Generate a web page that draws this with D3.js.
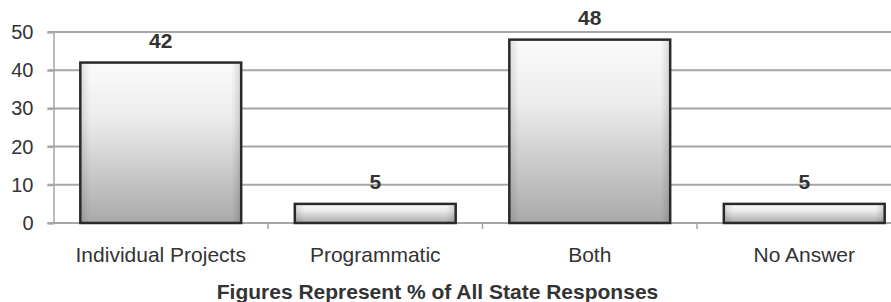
<!DOCTYPE html>
<html lang="en">
<head>
<meta charset="UTF-8" />
<title>State Responses bar chart</title>
<script src="https://cdn.jsdelivr.net/npm/d3@7"></script>
<style>
  body { margin: 0; background: #fff; }
  text { font-family: "Liberation Sans", Arial, sans-serif; fill: #333; }
</style>
</head>
<body>
<div id="chart"></div>
<script>
// data
const categories = ["Individual Projects", "Programmatic", "Both", "No Answer"];
const values = [42, 5, 48, 5];
const yTicks = [0, 10, 20, 30, 40, 50];
const title = "Figures Represent % of All State Responses";

const W = 891, H = 302;
// plot runs off the right edge, as in the original
const margin = { left: 53.5, right: 911.5, top: 32, bottom: 223 };

const svg = d3.select("#chart").append("svg")
    .attr("width", W).attr("height", H);

const defs = svg.append("defs");
const grad = defs.append("linearGradient")
    .attr("id", "barfill").attr("x1", 0).attr("y1", 0).attr("x2", 0).attr("y2", 1);
grad.append("stop").attr("offset", "0%").attr("stop-color", "#fbfbfb");
grad.append("stop").attr("offset", "35%").attr("stop-color", "#ececec");
grad.append("stop").attr("offset", "100%").attr("stop-color", "#a9a9a9");
const side = defs.append("linearGradient")
    .attr("id", "barside").attr("x1", 0).attr("y1", 0).attr("x2", 1).attr("y2", 0);
side.append("stop").attr("offset", "0%").attr("stop-color", "#000").attr("stop-opacity", 0.12);
side.append("stop").attr("offset", "6%").attr("stop-color", "#000").attr("stop-opacity", 0);
side.append("stop").attr("offset", "94%").attr("stop-color", "#000").attr("stop-opacity", 0);
side.append("stop").attr("offset", "100%").attr("stop-color", "#000").attr("stop-opacity", 0.15);

const x = d3.scaleBand()
    .domain(categories)
    .range([margin.left, margin.right])
    .paddingInner(0.25)
    .paddingOuter(0.125);

const y = d3.scaleLinear()
    .domain([0, 50])
    .range([margin.bottom, margin.top]);

// gridlines
svg.append("g")
    .selectAll("line")
    .data(yTicks.filter(d => d > 0))
    .join("line")
    .attr("x1", margin.left - 6).attr("x2", W)
    .attr("y1", d => y(d)).attr("y2", d => y(d))
    .attr("stroke", "#a6a6a6").attr("stroke-width", 2);

// y axis
const yAxis = svg.append("g")
    .attr("transform", `translate(${margin.left},0)`)
    .call(d3.axisLeft(y).tickValues(yTicks).tickSize(6).tickPadding(14));
yAxis.select(".domain").attr("stroke", "#a6a6a6").attr("stroke-width", 1.5);
yAxis.selectAll(".tick line").attr("stroke", "#a6a6a6").attr("stroke-width", 2);
yAxis.selectAll(".tick text").attr("font-size", 20).attr("fill", "#333")
    .style("font-family", "'Liberation Sans', Arial, sans-serif");

// x axis baseline + boundary ticks
svg.append("line")
    .attr("x1", margin.left - 6).attr("x2", W)
    .attr("y1", y(0)).attr("y2", y(0))
    .attr("stroke", "#a6a6a6").attr("stroke-width", 2);
const bounds = categories.map(c => x(c) - x.step() * x.paddingInner() / 2).slice(1);
svg.append("g")
    .selectAll("line")
    .data(bounds)
    .join("line")
    .attr("x1", d => d).attr("x2", d => d)
    .attr("y1", y(0)).attr("y2", y(0) + 6)
    .attr("stroke", "#a6a6a6").attr("stroke-width", 1.5);

// bars
const bars = svg.append("g");
bars.selectAll("rect.fill")
    .data(values)
    .join("rect")
    .attr("class", "fill")
    .attr("x", (d, i) => x(categories[i]))
    .attr("y", d => y(d))
    .attr("width", x.bandwidth())
    .attr("height", d => y(0) - y(d))
    .attr("fill", "url(#barfill)");
bars.selectAll("rect.edge")
    .data(values)
    .join("rect")
    .attr("class", "edge")
    .attr("x", (d, i) => x(categories[i]))
    .attr("y", d => y(d))
    .attr("width", x.bandwidth())
    .attr("height", d => y(0) - y(d))
    .attr("fill", "url(#barside)")
    .attr("stroke", "#2a2a2a")
    .attr("stroke-width", 2.5);

// value labels
svg.append("g")
    .selectAll("text")
    .data(values)
    .join("text")
    .attr("x", (d, i) => x(categories[i]) + x.bandwidth() / 2)
    .attr("y", d => y(d) - 15)
    .attr("text-anchor", "middle")
    .attr("font-size", 21)
    .attr("font-weight", "bold")
    .text(d => d);

// category labels
svg.append("g")
    .selectAll("text")
    .data(categories)
    .join("text")
    .attr("x", d => x(d) + x.bandwidth() / 2)
    .attr("y", 262)
    .attr("text-anchor", "middle")
    .attr("font-size", 21)
    .text(d => d);

// axis title
svg.append("text")
    .attr("x", 437.5)
    .attr("y", 299)
    .attr("text-anchor", "middle")
    .attr("font-size", 21)
    .attr("font-weight", "bold")
    .text(title);
</script>
</body>
</html>
